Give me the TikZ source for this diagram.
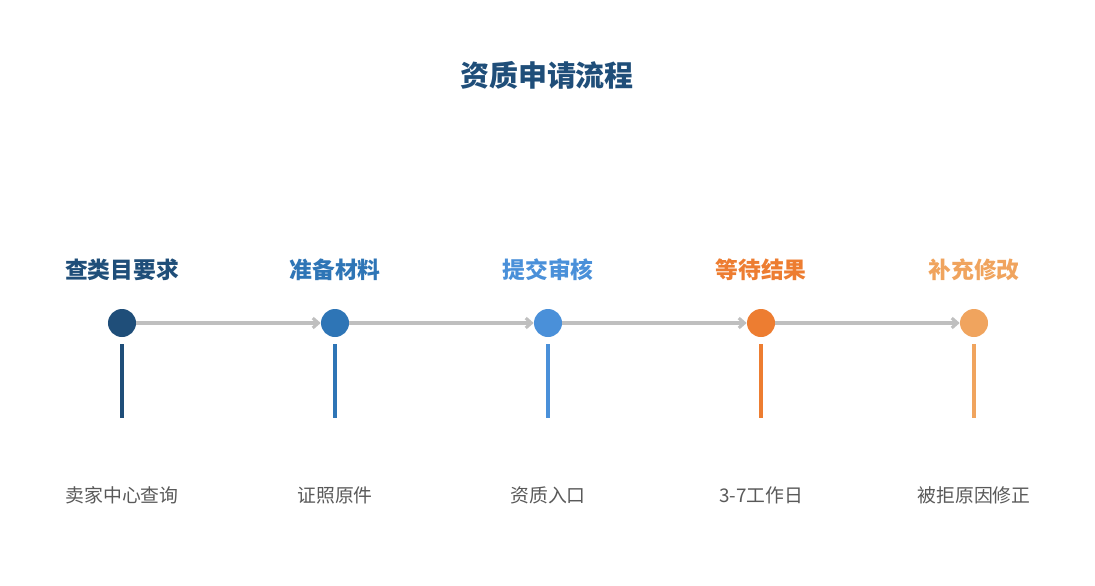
\documentclass[tikz,border=0pt]{standalone}
\usepackage{fontspec}
\setmainfont{Noto Sans CJK SC}
\usetikzlibrary{arrows.meta}
\definecolor{stepA}{HTML}{1F4E79}
\definecolor{stepB}{HTML}{2E75B6}
\definecolor{stepC}{HTML}{4A90D9}
\definecolor{stepD}{HTML}{ED7D31}
\definecolor{stepE}{HTML}{F0A45E}
\definecolor{linkgray}{HTML}{BFBFBF}
\definecolor{notegray}{HTML}{595959}
\tikzset{
  dot/.style={circle,inner sep=0pt,minimum size=0.7cm,draw=none},
  steptitle/.style={font=\fontsize{16.2}{18}\selectfont\bfseries},
  stepnote/.style={font=\fontsize{13.4}{15}\selectfont,text=notegray},
  link/.style={linkgray,line width=2.2pt,-{Straight Barb[length=4pt,width=7pt]}},
  stem/.style={line width=2.8pt}
}
\begin{document}
\begin{tikzpicture}[x=0.025cm,y=-0.025cm]
\useasboundingbox (0,0) rectangle (1095,585);
%\draw[step=50,gray!30,very thin] (0,0) grid (1095,585); %background grid
\node[font=\fontsize{20.6}{24}\selectfont\bfseries,text=stepA] (title) at (547,75) {资质申请流程};
% steps
\node[dot,fill=stepA] (c1) at (122,323) {};
\node[dot,fill=stepB] (c2) at (335,323) {};
\node[dot,fill=stepC] (c3) at (548,323) {};
\node[dot,fill=stepD] (c4) at (761,323) {};
\node[dot,fill=stepE] (c5) at (974,323) {};
\node[steptitle,text=stepA] (t1) at (122,270) {查类目要求};
\node[steptitle,text=stepB] (t2) at (335,270) {准备材料};
\node[steptitle,text=stepC] (t3) at (548,270) {提交审核};
\node[steptitle,text=stepD] (t4) at (761,270) {等待结果};
\node[steptitle,text=stepE] (t5) at (974,270) {补充修改};
\node[stepnote] (n1) at (122,495) {卖家中心查询};
\node[stepnote] (n2) at (335,495) {证照原件};
\node[stepnote] (n3) at (548,495) {资质入口};
\node[stepnote] (n4) at (761,495) {3-7工作日};
\node[stepnote] (n5) at (974,495) {被拒原因修正};
% arrows
\draw[link] (c1.east) -- (c2.west);
\draw[link] (c2.east) -- (c3.west);
\draw[link] (c3.east) -- (c4.west);
\draw[link] (c4.east) -- (c5.west);
% stems
\draw[stem,stepA] ([yshift=-5pt]c1.south) -- (122,418);
\draw[stem,stepB] ([yshift=-5pt]c2.south) -- (335,418);
\draw[stem,stepC] ([yshift=-5pt]c3.south) -- (548,418);
\draw[stem,stepD] ([yshift=-5pt]c4.south) -- (761,418);
\draw[stem,stepE] ([yshift=-5pt]c5.south) -- (974,418);
\end{tikzpicture}
\end{document}
